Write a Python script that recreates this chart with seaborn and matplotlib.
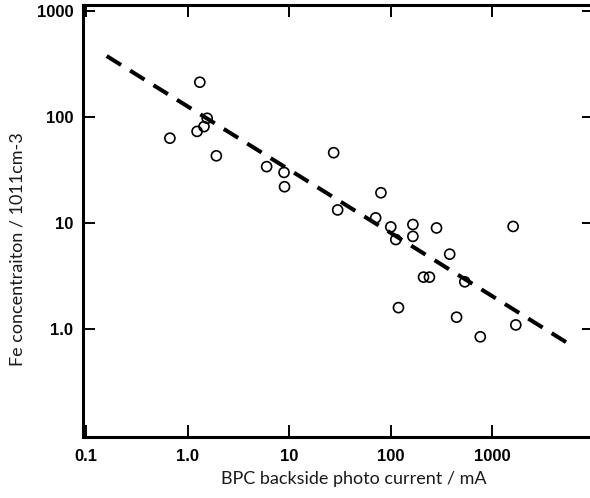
import matplotlib
matplotlib.use("Agg")
import matplotlib.pyplot as plt
import seaborn as sns
import pandas as pd

# Measured samples: backside photo current (mA) vs Fe concentration
bpc_current = [0.67, 1.24, 1.32, 1.45, 1.56, 1.92, 6.0, 8.9, 9.0, 27.4,
               30, 71, 80, 100, 112, 119, 165, 165, 210, 240,
               282, 380, 444, 535, 760, 1600, 1700]
fe_conc = [63, 73, 212, 81, 97, 43, 34, 30, 22, 46,
           13.3, 11.2, 19.3, 9.2, 7.0, 1.6, 9.7, 7.5, 3.1, 3.1,
           9.0, 5.1, 1.3, 2.8, 0.85, 9.3, 1.1]

# Power-law trend line end points
trend_x = [0.16, 5400]
trend_y = [374, 0.75]

x_ticks = [0.1, 1, 10, 100, 1000]
x_tick_labels = ["0.1", "1.0", "10", "100", "1000"]
y_ticks = [1, 10, 100, 1000]
y_tick_labels = ["1.0", "10", "100", "1000"]

points = pd.DataFrame({"current": bpc_current, "fe": fe_conc})
trend = pd.DataFrame({"current": trend_x, "fe": trend_y})

sns.set_theme(style="ticks")
plt.rcParams["font.family"] = ["Liberation Sans", "DejaVu Sans"]

W, H = 590, 498
fig = plt.figure(figsize=(W / 100, H / 100), dpi=100)
left, right, top, bottom = 83, 594, 4.7, 436.7
ax = fig.add_axes([left / W, 1 - bottom / H, (right - left) / W, (bottom - top) / H])

sns.lineplot(data=trend, x="current", y="fe", ax=ax, color="black",
             linewidth=2.9, dashes=False)
ax.lines[0].set_dashes((4.2, 2.65))
ax.lines[0].set_dash_capstyle("butt")

sns.scatterplot(data=points, x="current", y="fe", ax=ax, marker="o",
                s=52, facecolor="none", edgecolor="black", linewidth=1.2,
                zorder=3)

ax.set_xscale("log")
ax.set_yscale("log")
ax.set_xlim(0.0935, 10000)
ax.set_ylim(0.0975, 1138)

ax.set_xticks(x_ticks)
ax.set_xticklabels(x_tick_labels)
ax.set_yticks(y_ticks)
ax.set_yticklabels(y_tick_labels)
ax.minorticks_off()

for s in ax.spines.values():
    s.set_linewidth(2.2)
    s.set_color("black")
ax.tick_params(axis="both", which="major", direction="in", length=8.5,
               width=1.4, color="black", top=True, right=True,
               labelsize=12, pad=7)
for lab in ax.get_xticklabels() + ax.get_yticklabels():
    lab.set_fontweight("bold")
    lab.set_color("black")
ax.tick_params(axis="x", pad=9)

label_font = dict(family=["Lato", "DejaVu Sans"], size=13, color="#1a1a1a")
ax.set_xlabel("BPC backside photo current / mA", **label_font)
ax.set_ylabel("Fe concentraiton / 1011cm-3", **label_font)
ax.xaxis.set_label_coords(0.530, -0.079)
ax.yaxis.set_label_coords(-0.113, 0.435)

fig.savefig("out.png", dpi=100)
